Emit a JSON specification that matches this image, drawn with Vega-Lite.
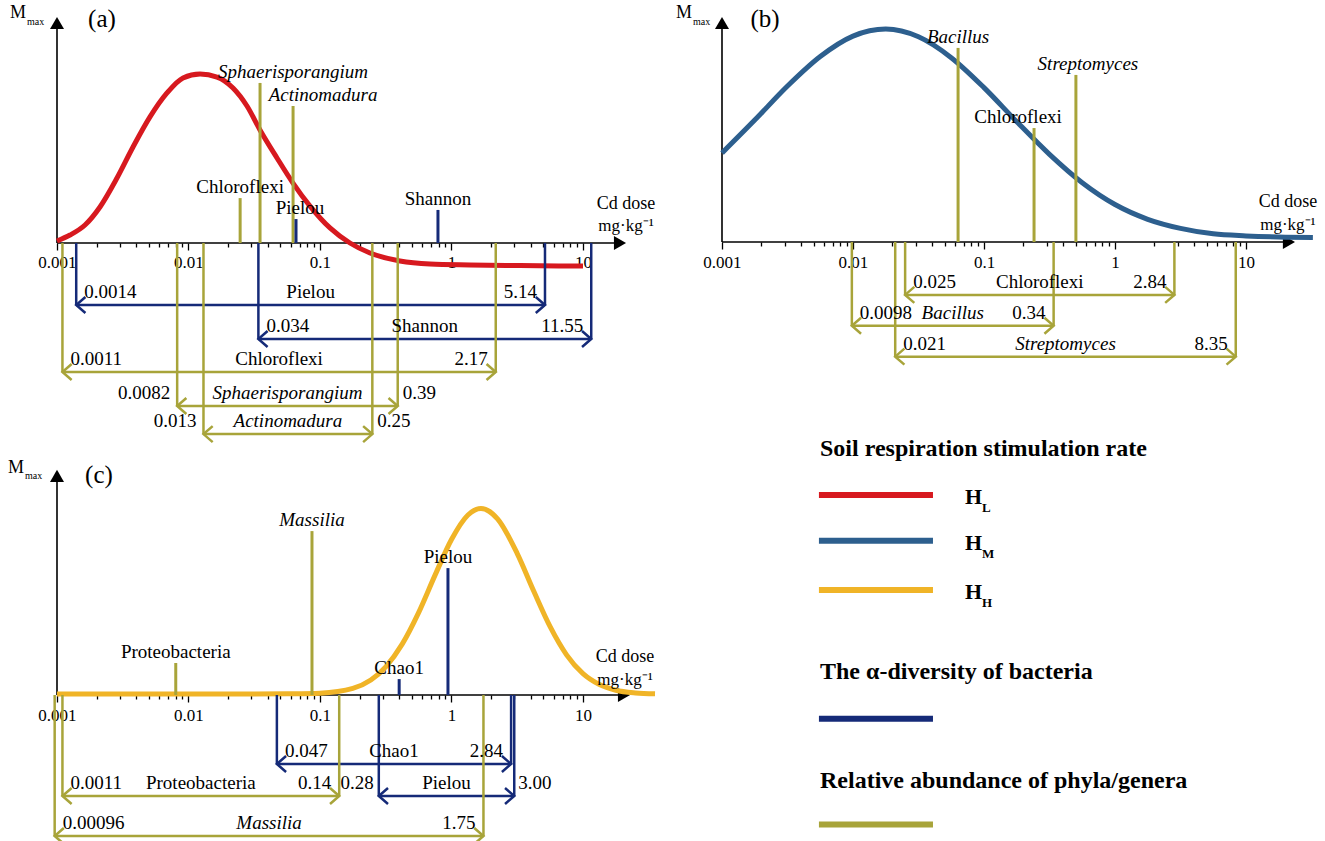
{
"$schema":"https://vega.github.io/schema/vega-lite/v6.json",
"background":"white",
"padding":0,
"columns":2,
"spacing":0,
"bounds":"flush",
"resolve":{"scale":{"x":"independent","y":"independent"}},
"config":{"view":{"stroke":null},"font":"Liberation Serif","axis":{"grid":false},"text":{"font":"Liberation Serif","color":"black"}},
"datasets":{
"curves":[
{"panel":"a","kind":"H_L","dose":0.001,"M":0.9},{"panel":"a","kind":"H_L","dose":0.001256,"M":3.5},{"panel":"a","kind":"H_L","dose":0.001633,"M":7.9},{"panel":"a","kind":"H_L","dose":0.002123,"M":15.8},{"panel":"a","kind":"H_L","dose":0.002859,"M":28.5},{"panel":"a","kind":"H_L","dose":0.003785,"M":42.1},{"panel":"a","kind":"H_L","dose":0.005095,"M":55.3},{"panel":"a","kind":"H_L","dose":0.006864,"M":65.8},{"panel":"a","kind":"H_L","dose":0.009082,"M":72.4},{"panel":"a","kind":"H_L","dose":0.01224,"M":74.1},{"panel":"a","kind":"H_L","dose":0.01647,"M":72.8},{"panel":"a","kind":"H_L","dose":0.0218,"M":68.0},{"panel":"a","kind":"H_L","dose":0.02785,"M":60.1},{"panel":"a","kind":"H_L","dose":0.03497,"M":49.6},{"panel":"a","kind":"H_L","dose":0.0471,"M":37.3},{"panel":"a","kind":"H_L","dose":0.06231,"M":26.3},{"panel":"a","kind":"H_L","dose":0.08395,"M":16.2},{"panel":"a","kind":"H_L","dose":0.1191,"M":6.6},{"panel":"a","kind":"H_L","dose":0.169,"M":0},{"panel":"a","kind":"H_L","dose":0.2399,"M":-4.4},{"panel":"a","kind":"H_L","dose":0.4055,"M":-7.9},{"panel":"a","kind":"H_L","dose":0.6863,"M":-9.2},{"panel":"a","kind":"H_L","dose":1.382,"M":-9.6},{"panel":"a","kind":"H_L","dose":3.319,"M":-9.9},{"panel":"a","kind":"H_L","dose":10,"M":-10.1},
{"panel":"b","kind":"H_M","dose":0.001,"M":39.2},{"panel":"b","kind":"H_M","dose":0.001778,"M":53.7},{"panel":"b","kind":"H_M","dose":0.003162,"M":68.7},{"panel":"b","kind":"H_M","dose":0.005623,"M":81.7},{"panel":"b","kind":"H_M","dose":0.01,"M":90.7},{"panel":"b","kind":"H_M","dose":0.01778,"M":93.8},{"panel":"b","kind":"H_M","dose":0.03162,"M":90.4},{"panel":"b","kind":"H_M","dose":0.05623,"M":81.2},{"panel":"b","kind":"H_M","dose":0.1,"M":68.0},{"panel":"b","kind":"H_M","dose":0.1778,"M":53.0},{"panel":"b","kind":"H_M","dose":0.3162,"M":38.6},{"panel":"b","kind":"H_M","dose":0.5623,"M":26.1},{"panel":"b","kind":"H_M","dose":1,"M":16.5},{"panel":"b","kind":"H_M","dose":1.778,"M":10.0},{"panel":"b","kind":"H_M","dose":3.162,"M":6.0},{"panel":"b","kind":"H_M","dose":5.623,"M":3.6},{"panel":"b","kind":"H_M","dose":10,"M":2.7},{"panel":"b","kind":"H_M","dose":17.78,"M":2.2},{"panel":"b","kind":"H_M","dose":32.4,"M":2.0},
{"panel":"c","kind":"H_H","dose":0.001,"M":0.4},{"panel":"c","kind":"H_H","dose":0.01,"M":0.4},{"panel":"c","kind":"H_H","dose":0.03162,"M":0.4},{"panel":"c","kind":"H_H","dose":0.05623,"M":0.5},{"panel":"c","kind":"H_H","dose":0.1,"M":0.8},{"panel":"c","kind":"H_H","dose":0.1778,"M":2.9},{"panel":"c","kind":"H_H","dose":0.3162,"M":12.4},{"panel":"c","kind":"H_H","dose":0.4217,"M":22.4},{"panel":"c","kind":"H_H","dose":0.5623,"M":36.3},{"panel":"c","kind":"H_H","dose":0.7499,"M":52.8},{"panel":"c","kind":"H_H","dose":1,"M":68.5},{"panel":"c","kind":"H_H","dose":1.334,"M":79.3},{"panel":"c","kind":"H_H","dose":1.675,"M":82.2},{"panel":"c","kind":"H_H","dose":2.239,"M":77.6},{"panel":"c","kind":"H_H","dose":3.162,"M":62.3},{"panel":"c","kind":"H_H","dose":4.217,"M":45.8},{"panel":"c","kind":"H_H","dose":5.623,"M":30.1},{"panel":"c","kind":"H_H","dose":7.499,"M":17.7},{"panel":"c","kind":"H_H","dose":10,"M":9.4},{"panel":"c","kind":"H_H","dose":13.34,"M":4.6},{"panel":"c","kind":"H_H","dose":17.78,"M":2.1},{"panel":"c","kind":"H_H","dose":25.12,"M":0.9},{"panel":"c","kind":"H_H","dose":35.3,"M":0.5}
],
"markers":[
{"panel":"a","name":"Chloroflexi","rank":"phylum","kind":"relative abundance","dose":0.0247,"M":19.7},
{"panel":"a","name":"Sphaerisporangium","rank":"genus","kind":"relative abundance","dose":0.035,"M":70.2},
{"panel":"a","name":"Actinomadura","rank":"genus","kind":"relative abundance","dose":0.0624,"M":60.1},
{"panel":"a","name":"Pielou","rank":"index","kind":"α-diversity","dose":0.0657,"M":10.5},
{"panel":"a","name":"Shannon","rank":"index","kind":"α-diversity","dose":0.789,"M":14.5},
{"panel":"b","name":"Bacillus","rank":"genus","kind":"relative abundance","dose":0.0634,"M":85.5},
{"panel":"b","name":"Chloroflexi","rank":"phylum","kind":"relative abundance","dose":0.241,"M":50.2},
{"panel":"b","name":"Streptomyces","rank":"genus","kind":"relative abundance","dose":0.503,"M":73.6},
{"panel":"c","name":"Proteobacteria","rank":"phylum","kind":"relative abundance","dose":0.008,"M":14.1},
{"panel":"c","name":"Massilia","rank":"genus","kind":"relative abundance","dose":0.0869,"M":72.2},
{"panel":"c","name":"Chao1","rank":"index","kind":"α-diversity","dose":0.40,"M":7.0},
{"panel":"c","name":"Pielou","rank":"index","kind":"α-diversity","dose":0.94,"M":55.9}
],
"brackets":[
{"panel":"a","name":"Pielou","rank":"index","kind":"α-diversity","lo":0.0014,"hi":5.14,"loText":"0.0014","hiText":"5.14","row":-27.2,"place":"inside"},
{"panel":"a","name":"Shannon","rank":"index","kind":"α-diversity","lo":0.034,"hi":11.55,"loText":"0.034","hiText":"11.55","row":-42.1,"place":"inside"},
{"panel":"a","name":"Chloroflexi","rank":"phylum","kind":"relative abundance","lo":0.0011,"hi":2.17,"loText":"0.0011","hiText":"2.17","row":-56.6,"place":"inside"},
{"panel":"a","name":"Sphaerisporangium","rank":"genus","kind":"relative abundance","lo":0.0082,"hi":0.39,"loText":"0.0082","hiText":"0.39","row":-71.5,"place":"outside"},
{"panel":"a","name":"Actinomadura","rank":"genus","kind":"relative abundance","lo":0.013,"hi":0.25,"loText":"0.013","hiText":"0.25","row":-83.8,"place":"outside"},
{"panel":"b","name":"Chloroflexi","rank":"phylum","kind":"relative abundance","lo":0.025,"hi":2.84,"loText":"0.025","hiText":"2.84","row":-23.3,"place":"inside"},
{"panel":"b","name":"Bacillus","rank":"genus","kind":"relative abundance","lo":0.0098,"hi":0.34,"loText":"0.0098","hiText":"0.34","row":-36.9,"place":"inside"},
{"panel":"b","name":"Streptomyces","rank":"genus","kind":"relative abundance","lo":0.021,"hi":8.35,"loText":"0.021","hiText":"8.35","row":-50.5,"place":"inside"},
{"panel":"c","name":"Chao1","rank":"index","kind":"α-diversity","lo":0.047,"hi":2.84,"loText":"0.047","hiText":"2.84","row":-30.4,"place":"inside"},
{"panel":"c","name":"Proteobacteria","rank":"phylum","kind":"relative abundance","lo":0.0011,"hi":0.14,"loText":"0.0011","hiText":"0.14","row":-44.5,"place":"inside"},
{"panel":"c","name":"Pielou","rank":"index","kind":"α-diversity","lo":0.28,"hi":3.0,"loText":"0.28","hiText":"3.00","row":-44.5,"place":"outside"},
{"panel":"c","name":"Massilia","rank":"genus","kind":"relative abundance","lo":0.00096,"hi":1.75,"loText":"0.00096","hiText":"1.75","row":-62.1,"place":"inside"}
],
"legendLines":[
{"kind":"H_L","sub":"L","pos":13.7},{"kind":"H_M","sub":"M","pos":25.1},{"kind":"H_H","sub":"H","pos":37.4},{"kind":"α-diversity","pos":69.5},{"kind":"relative abundance","pos":95.9}
],
"legendHeads":[
{"text":"Soil respiration stimulation rate","pos":4.0},{"text":"The α-diversity of bacteria","pos":59.6},{"text":"Relative abundance of phyla/genera","pos":86.8}
]
},
"concat":[
{"width":660,"height":440,"resolve":{"axis":{"x":"independent"}},"layer":[
{"data":{"values":[{}]},"mark":{"type":"rule","color":"black","strokeWidth":1.6},"encoding":{"x":{"datum":0.001,"type":"quantitative","scale":{"type":"log","domain":[0.0003686,38.51],"nice":false},"axis":null},"x2":{"datum":19.11},"y":{"datum":0,"type":"quantitative","scale":{"domain":[-86.4,106.58],"nice":false,"zero":false},"axis":null}}},
{"data":{"values":[{}]},"mark":{"type":"rule","color":"black","strokeWidth":1.6},"encoding":{"x":{"datum":0.001,"type":"quantitative","scale":{"type":"log","domain":[0.0003686,38.51],"nice":false},"axis":null},"y":{"datum":0,"type":"quantitative","scale":{"domain":[-86.4,106.58],"nice":false,"zero":false},"axis":null},"y2":{"datum":96.5}}},
{"data":{"values":[{}]},"mark":{"type":"point","shape":"triangle-right","filled":true,"size":196,"color":"black","opacity":1,"strokeWidth":0},"encoding":{"x":{"datum":19.11,"type":"quantitative","scale":{"type":"log","domain":[0.0003686,38.51],"nice":false},"axis":null},"y":{"datum":0,"type":"quantitative","scale":{"domain":[-86.4,106.58],"nice":false,"zero":false},"axis":null}}},
{"data":{"values":[{}]},"mark":{"type":"point","shape":"triangle-up","filled":true,"size":196,"color":"black","opacity":1,"strokeWidth":0},"encoding":{"x":{"datum":0.001,"type":"quantitative","scale":{"type":"log","domain":[0.0003686,38.51],"nice":false},"axis":null},"y":{"datum":96.5,"type":"quantitative","scale":{"domain":[-86.4,106.58],"nice":false,"zero":false},"axis":null}}},
{"data":{"name":"curves"},"transform":[{"filter":"datum.panel=='a'"}],"mark":{"type":"line","strokeWidth":5,"interpolate":"monotone"},"encoding":{"x":{"field":"dose","type":"quantitative","scale":{"type":"log","domain":[0.0003686,38.51],"nice":false},"axis":{"orient":"bottom","values":[0.002,0.003,0.004,0.005,0.006,0.007,0.008,0.009,0.02,0.03,0.04,0.05,0.06,0.07,0.08,0.09,0.2,0.3,0.4,0.5,0.6,0.7,0.8,0.9,2,3,4,5,6,7,8,9],"labels":false,"offset":-197,"domain":false,"grid":false,"title":null,"tickColor":"black","tickWidth":1.3,"tickSize":4}},"y":{"field":"M","type":"quantitative","scale":{"domain":[-86.4,106.58],"nice":false,"zero":false},"axis":null},"color":{"field":"kind","type":"nominal","scale":{"domain":["H_L","H_M","H_H","α-diversity","relative abundance"],"range":["#d7191f","#2d5f8e","#f0b427","#152a78","#a8a43a"]},"legend":null}}},
{"data":{"name":"markers"},"transform":[{"filter":"datum.panel=='a'"}],"mark":{"type":"rule","strokeWidth":3},"encoding":{"x":{"field":"dose","type":"quantitative","scale":{"type":"log","domain":[0.0003686,38.51],"nice":false},"axis":{"orient":"bottom","values":[0.001,0.01,0.1,1,10],"format":"~g","offset":-197,"domain":false,"grid":false,"title":null,"tickColor":"black","tickWidth":1.3,"tickSize":7,"labelFont":"Liberation Serif","labelFontSize":17,"labelColor":"black","labelPadding":4,"labelOverlap":false,"labelBound":false,"labelFlush":false}},"y":{"field":"M","type":"quantitative","scale":{"domain":[-86.4,106.58],"nice":false,"zero":false},"axis":null},"y2":{"datum":0},"color":{"field":"kind","type":"nominal","scale":{"domain":["H_L","H_M","H_H","α-diversity","relative abundance"],"range":["#d7191f","#2d5f8e","#f0b427","#152a78","#a8a43a"]},"legend":null}}},
{"data":{"name":"markers"},"transform":[{"filter":"datum.panel=='a'"}],"mark":{"type":"text","align":"center","baseline":"alphabetic","dy":-5,"fontSize":19,"color":"black","fontStyle":{"expr":"datum.rank=='genus' ? 'italic' : 'normal'"},"dx":{"expr":"datum.name=='Sphaerisporangium' ? 33 : datum.name=='Actinomadura' ? 30 : datum.name=='Pielou' ? 4 : 0"}},"encoding":{"x":{"field":"dose","type":"quantitative","scale":{"type":"log","domain":[0.0003686,38.51],"nice":false},"axis":null},"y":{"field":"M","type":"quantitative","scale":{"domain":[-86.4,106.58],"nice":false,"zero":false},"axis":null},"text":{"field":"name"}}},
{"data":{"name":"brackets"},"transform":[{"filter":"datum.panel=='a'"}],"mark":{"type":"rule","strokeWidth":2.5},"encoding":{"x":{"field":"lo","type":"quantitative","scale":{"type":"log","domain":[0.0003686,38.51],"nice":false},"axis":null},"x2":{"field":"hi"},"y":{"field":"row","type":"quantitative","scale":{"domain":[-86.4,106.58],"nice":false,"zero":false},"axis":null},"color":{"field":"kind","type":"nominal","scale":{"domain":["H_L","H_M","H_H","α-diversity","relative abundance"],"range":["#d7191f","#2d5f8e","#f0b427","#152a78","#a8a43a"]},"legend":null}}},
{"data":{"name":"brackets"},"transform":[{"filter":"datum.panel=='a'"}],"mark":{"type":"rule","strokeWidth":2.5},"encoding":{"x":{"field":"lo","type":"quantitative","scale":{"type":"log","domain":[0.0003686,38.51],"nice":false},"axis":null},"y":{"field":"row","type":"quantitative","scale":{"domain":[-86.4,106.58],"nice":false,"zero":false},"axis":null},"y2":{"datum":0},"color":{"field":"kind","type":"nominal","scale":{"domain":["H_L","H_M","H_H","α-diversity","relative abundance"],"range":["#d7191f","#2d5f8e","#f0b427","#152a78","#a8a43a"]},"legend":null}}},
{"data":{"name":"brackets"},"transform":[{"filter":"datum.panel=='a'"}],"mark":{"type":"rule","strokeWidth":2.5},"encoding":{"x":{"field":"hi","type":"quantitative","scale":{"type":"log","domain":[0.0003686,38.51],"nice":false},"axis":null},"y":{"field":"row","type":"quantitative","scale":{"domain":[-86.4,106.58],"nice":false,"zero":false},"axis":null},"y2":{"datum":0},"color":{"field":"kind","type":"nominal","scale":{"domain":["H_L","H_M","H_H","α-diversity","relative abundance"],"range":["#d7191f","#2d5f8e","#f0b427","#152a78","#a8a43a"]},"legend":null}}},
{"data":{"name":"brackets"},"transform":[{"filter":"datum.panel=='a'"}],"mark":{"type":"point","shape":"M1.15,-1L0,0L1.15,1","filled":false,"size":256,"strokeWidth":2.5,"opacity":1},"encoding":{"x":{"field":"lo","type":"quantitative","scale":{"type":"log","domain":[0.0003686,38.51],"nice":false},"axis":null},"y":{"field":"row","type":"quantitative","scale":{"domain":[-86.4,106.58],"nice":false,"zero":false},"axis":null},"color":{"field":"kind","type":"nominal","scale":{"domain":["H_L","H_M","H_H","α-diversity","relative abundance"],"range":["#d7191f","#2d5f8e","#f0b427","#152a78","#a8a43a"]},"legend":null}}},
{"data":{"name":"brackets"},"transform":[{"filter":"datum.panel=='a'"}],"mark":{"type":"point","shape":"M-1.15,-1L0,0L-1.15,1","filled":false,"size":256,"strokeWidth":2.5,"opacity":1},"encoding":{"x":{"field":"hi","type":"quantitative","scale":{"type":"log","domain":[0.0003686,38.51],"nice":false},"axis":null},"y":{"field":"row","type":"quantitative","scale":{"domain":[-86.4,106.58],"nice":false,"zero":false},"axis":null},"color":{"field":"kind","type":"nominal","scale":{"domain":["H_L","H_M","H_H","α-diversity","relative abundance"],"range":["#d7191f","#2d5f8e","#f0b427","#152a78","#a8a43a"]},"legend":null}}},
{"data":{"name":"brackets"},"transform":[{"filter":"datum.panel=='a'"},{"calculate":"sqrt(datum.lo*datum.hi)","as":"mid"}],"mark":{"type":"text","align":"center","baseline":"alphabetic","dy":-7,"fontSize":19,"color":"black","fontStyle":{"expr":"datum.rank=='genus' ? 'italic' : 'normal'"}},"encoding":{"x":{"field":"mid","type":"quantitative","scale":{"type":"log","domain":[0.0003686,38.51],"nice":false},"axis":null},"y":{"field":"row","type":"quantitative","scale":{"domain":[-86.4,106.58],"nice":false,"zero":false},"axis":null},"text":{"field":"name"}}},
{"data":{"name":"brackets"},"transform":[{"filter":"datum.panel=='a'"}],"mark":{"type":"text","baseline":"alphabetic","dy":-7,"fontSize":19,"color":"black","align":{"expr":"datum.place=='outside' ? 'right' : 'left'"},"dx":{"expr":"datum.place=='outside' ? -7 : 8"}},"encoding":{"x":{"field":"lo","type":"quantitative","scale":{"type":"log","domain":[0.0003686,38.51],"nice":false},"axis":null},"y":{"field":"row","type":"quantitative","scale":{"domain":[-86.4,106.58],"nice":false,"zero":false},"axis":null},"text":{"field":"loText"}}},
{"data":{"name":"brackets"},"transform":[{"filter":"datum.panel=='a'"}],"mark":{"type":"text","baseline":"alphabetic","dy":-7,"fontSize":19,"color":"black","align":{"expr":"datum.place=='outside' ? 'left' : 'right'"},"dx":{"expr":"datum.place=='outside' ? 5 : -8"}},"encoding":{"x":{"field":"hi","type":"quantitative","scale":{"type":"log","domain":[0.0003686,38.51],"nice":false},"axis":null},"y":{"field":"row","type":"quantitative","scale":{"domain":[-86.4,106.58],"nice":false,"zero":false},"axis":null},"text":{"field":"hiText"}}},
{"data":{"values":[{}]},"mark":{"type":"text","text":"M","align":"right","baseline":"alphabetic","dx":-31,"dy":3,"fontSize":18,"color":"black"},"encoding":{"x":{"datum":0.001,"type":"quantitative","scale":{"type":"log","domain":[0.0003686,38.51],"nice":false},"axis":null},"y":{"datum":100,"type":"quantitative","scale":{"domain":[-86.4,106.58],"nice":false,"zero":false},"axis":null}}},
{"data":{"values":[{}]},"mark":{"type":"text","text":"max","align":"left","baseline":"alphabetic","dx":-30,"dy":10,"fontSize":10,"color":"black"},"encoding":{"x":{"datum":0.001,"type":"quantitative","scale":{"type":"log","domain":[0.0003686,38.51],"nice":false},"axis":null},"y":{"datum":100,"type":"quantitative","scale":{"domain":[-86.4,106.58],"nice":false,"zero":false},"axis":null}}},
{"data":{"values":[{}]},"mark":{"type":"text","text":"(a)","align":"center","baseline":"alphabetic","dx":45,"dy":12,"fontSize":25,"color":"black"},"encoding":{"x":{"datum":0.001,"type":"quantitative","scale":{"type":"log","domain":[0.0003686,38.51],"nice":false},"axis":null},"y":{"datum":100,"type":"quantitative","scale":{"domain":[-86.4,106.58],"nice":false,"zero":false},"axis":null}}},
{"data":{"values":[{}]},"mark":{"type":"text","text":"Cd dose","align":"center","baseline":"alphabetic","dx":6,"dy":-34,"fontSize":18,"color":"black"},"encoding":{"x":{"datum":19.11,"type":"quantitative","scale":{"type":"log","domain":[0.0003686,38.51],"nice":false},"axis":null},"y":{"datum":0,"type":"quantitative","scale":{"domain":[-86.4,106.58],"nice":false,"zero":false},"axis":null}}},
{"data":{"values":[{}]},"mark":{"type":"text","text":"mg·kg⁻¹","align":"center","baseline":"alphabetic","dx":6,"dy":-12,"fontSize":17,"color":"black"},"encoding":{"x":{"datum":19.11,"type":"quantitative","scale":{"type":"log","domain":[0.0003686,38.51],"nice":false},"axis":null},"y":{"datum":0,"type":"quantitative","scale":{"domain":[-86.4,106.58],"nice":false,"zero":false},"axis":null}}}
]},
{"width":665,"height":440,"resolve":{"axis":{"x":"independent"}},"layer":[
{"data":{"values":[{}]},"mark":{"type":"rule","color":"black","strokeWidth":1.6},"encoding":{"x":{"datum":0.001,"type":"quantitative","scale":{"type":"log","domain":[0.0003363,40.09],"nice":false},"axis":null},"x2":{"datum":21.28},"y":{"datum":0,"type":"quantitative","scale":{"domain":[-87.22,106.61],"nice":false,"zero":false},"axis":null}}},
{"data":{"values":[{}]},"mark":{"type":"rule","color":"black","strokeWidth":1.6},"encoding":{"x":{"datum":0.001,"type":"quantitative","scale":{"type":"log","domain":[0.0003363,40.09],"nice":false},"axis":null},"y":{"datum":0,"type":"quantitative","scale":{"domain":[-87.22,106.61],"nice":false,"zero":false},"axis":null},"y2":{"datum":96.5}}},
{"data":{"values":[{}]},"mark":{"type":"point","shape":"triangle-right","filled":true,"size":196,"color":"black","opacity":1,"strokeWidth":0},"encoding":{"x":{"datum":21.28,"type":"quantitative","scale":{"type":"log","domain":[0.0003363,40.09],"nice":false},"axis":null},"y":{"datum":0,"type":"quantitative","scale":{"domain":[-87.22,106.61],"nice":false,"zero":false},"axis":null}}},
{"data":{"values":[{}]},"mark":{"type":"point","shape":"triangle-up","filled":true,"size":196,"color":"black","opacity":1,"strokeWidth":0},"encoding":{"x":{"datum":0.001,"type":"quantitative","scale":{"type":"log","domain":[0.0003363,40.09],"nice":false},"axis":null},"y":{"datum":96.5,"type":"quantitative","scale":{"domain":[-87.22,106.61],"nice":false,"zero":false},"axis":null}}},
{"data":{"name":"curves"},"transform":[{"filter":"datum.panel=='b'"}],"mark":{"type":"line","strokeWidth":5,"interpolate":"monotone"},"encoding":{"x":{"field":"dose","type":"quantitative","scale":{"type":"log","domain":[0.0003363,40.09],"nice":false},"axis":{"orient":"bottom","values":[0.002,0.003,0.004,0.005,0.006,0.007,0.008,0.009,0.02,0.03,0.04,0.05,0.06,0.07,0.08,0.09,0.2,0.3,0.4,0.5,0.6,0.7,0.8,0.9,2,3,4,5,6,7,8,9],"labels":false,"offset":-198,"domain":false,"grid":false,"title":null,"tickColor":"black","tickWidth":1.3,"tickSize":4}},"y":{"field":"M","type":"quantitative","scale":{"domain":[-87.22,106.61],"nice":false,"zero":false},"axis":null},"color":{"field":"kind","type":"nominal","scale":{"domain":["H_L","H_M","H_H","α-diversity","relative abundance"],"range":["#d7191f","#2d5f8e","#f0b427","#152a78","#a8a43a"]},"legend":null}}},
{"data":{"name":"markers"},"transform":[{"filter":"datum.panel=='b'"}],"mark":{"type":"rule","strokeWidth":3},"encoding":{"x":{"field":"dose","type":"quantitative","scale":{"type":"log","domain":[0.0003363,40.09],"nice":false},"axis":{"orient":"bottom","values":[0.001,0.01,0.1,1,10],"format":"~g","offset":-198,"domain":false,"grid":false,"title":null,"tickColor":"black","tickWidth":1.3,"tickSize":7,"labelFont":"Liberation Serif","labelFontSize":17,"labelColor":"black","labelPadding":5,"labelOverlap":false,"labelBound":false,"labelFlush":false}},"y":{"field":"M","type":"quantitative","scale":{"domain":[-87.22,106.61],"nice":false,"zero":false},"axis":null},"y2":{"datum":0},"color":{"field":"kind","type":"nominal","scale":{"domain":["H_L","H_M","H_H","α-diversity","relative abundance"],"range":["#d7191f","#2d5f8e","#f0b427","#152a78","#a8a43a"]},"legend":null}}},
{"data":{"name":"markers"},"transform":[{"filter":"datum.panel=='b'"}],"mark":{"type":"text","align":"center","baseline":"alphabetic","dy":-5,"fontSize":19,"color":"black","fontStyle":{"expr":"datum.rank=='genus' ? 'italic' : 'normal'"},"dx":{"expr":"datum.name=='Chloroflexi' ? -16 : datum.name=='Streptomyces' ? 12 : 0"}},"encoding":{"x":{"field":"dose","type":"quantitative","scale":{"type":"log","domain":[0.0003363,40.09],"nice":false},"axis":null},"y":{"field":"M","type":"quantitative","scale":{"domain":[-87.22,106.61],"nice":false,"zero":false},"axis":null},"text":{"field":"name"}}},
{"data":{"name":"brackets"},"transform":[{"filter":"datum.panel=='b'"}],"mark":{"type":"rule","strokeWidth":2.5},"encoding":{"x":{"field":"lo","type":"quantitative","scale":{"type":"log","domain":[0.0003363,40.09],"nice":false},"axis":null},"x2":{"field":"hi"},"y":{"field":"row","type":"quantitative","scale":{"domain":[-87.22,106.61],"nice":false,"zero":false},"axis":null},"color":{"field":"kind","type":"nominal","scale":{"domain":["H_L","H_M","H_H","α-diversity","relative abundance"],"range":["#d7191f","#2d5f8e","#f0b427","#152a78","#a8a43a"]},"legend":null}}},
{"data":{"name":"brackets"},"transform":[{"filter":"datum.panel=='b'"}],"mark":{"type":"rule","strokeWidth":2.5},"encoding":{"x":{"field":"lo","type":"quantitative","scale":{"type":"log","domain":[0.0003363,40.09],"nice":false},"axis":null},"y":{"field":"row","type":"quantitative","scale":{"domain":[-87.22,106.61],"nice":false,"zero":false},"axis":null},"y2":{"datum":0},"color":{"field":"kind","type":"nominal","scale":{"domain":["H_L","H_M","H_H","α-diversity","relative abundance"],"range":["#d7191f","#2d5f8e","#f0b427","#152a78","#a8a43a"]},"legend":null}}},
{"data":{"name":"brackets"},"transform":[{"filter":"datum.panel=='b'"}],"mark":{"type":"rule","strokeWidth":2.5},"encoding":{"x":{"field":"hi","type":"quantitative","scale":{"type":"log","domain":[0.0003363,40.09],"nice":false},"axis":null},"y":{"field":"row","type":"quantitative","scale":{"domain":[-87.22,106.61],"nice":false,"zero":false},"axis":null},"y2":{"datum":0},"color":{"field":"kind","type":"nominal","scale":{"domain":["H_L","H_M","H_H","α-diversity","relative abundance"],"range":["#d7191f","#2d5f8e","#f0b427","#152a78","#a8a43a"]},"legend":null}}},
{"data":{"name":"brackets"},"transform":[{"filter":"datum.panel=='b'"}],"mark":{"type":"point","shape":"M1.15,-1L0,0L1.15,1","filled":false,"size":256,"strokeWidth":2.5,"opacity":1},"encoding":{"x":{"field":"lo","type":"quantitative","scale":{"type":"log","domain":[0.0003363,40.09],"nice":false},"axis":null},"y":{"field":"row","type":"quantitative","scale":{"domain":[-87.22,106.61],"nice":false,"zero":false},"axis":null},"color":{"field":"kind","type":"nominal","scale":{"domain":["H_L","H_M","H_H","α-diversity","relative abundance"],"range":["#d7191f","#2d5f8e","#f0b427","#152a78","#a8a43a"]},"legend":null}}},
{"data":{"name":"brackets"},"transform":[{"filter":"datum.panel=='b'"}],"mark":{"type":"point","shape":"M-1.15,-1L0,0L-1.15,1","filled":false,"size":256,"strokeWidth":2.5,"opacity":1},"encoding":{"x":{"field":"hi","type":"quantitative","scale":{"type":"log","domain":[0.0003363,40.09],"nice":false},"axis":null},"y":{"field":"row","type":"quantitative","scale":{"domain":[-87.22,106.61],"nice":false,"zero":false},"axis":null},"color":{"field":"kind","type":"nominal","scale":{"domain":["H_L","H_M","H_H","α-diversity","relative abundance"],"range":["#d7191f","#2d5f8e","#f0b427","#152a78","#a8a43a"]},"legend":null}}},
{"data":{"name":"brackets"},"transform":[{"filter":"datum.panel=='b'"},{"calculate":"sqrt(datum.lo*datum.hi)","as":"mid"}],"mark":{"type":"text","align":"center","baseline":"alphabetic","dy":-7,"fontSize":19,"color":"black","fontStyle":{"expr":"datum.rank=='genus' ? 'italic' : 'normal'"}},"encoding":{"x":{"field":"mid","type":"quantitative","scale":{"type":"log","domain":[0.0003363,40.09],"nice":false},"axis":null},"y":{"field":"row","type":"quantitative","scale":{"domain":[-87.22,106.61],"nice":false,"zero":false},"axis":null},"text":{"field":"name"}}},
{"data":{"name":"brackets"},"transform":[{"filter":"datum.panel=='b'"}],"mark":{"type":"text","baseline":"alphabetic","dy":-7,"fontSize":19,"color":"black","align":{"expr":"datum.place=='outside' ? 'right' : 'left'"},"dx":{"expr":"datum.place=='outside' ? -7 : 8"}},"encoding":{"x":{"field":"lo","type":"quantitative","scale":{"type":"log","domain":[0.0003363,40.09],"nice":false},"axis":null},"y":{"field":"row","type":"quantitative","scale":{"domain":[-87.22,106.61],"nice":false,"zero":false},"axis":null},"text":{"field":"loText"}}},
{"data":{"name":"brackets"},"transform":[{"filter":"datum.panel=='b'"}],"mark":{"type":"text","baseline":"alphabetic","dy":-7,"fontSize":19,"color":"black","align":{"expr":"datum.place=='outside' ? 'left' : 'right'"},"dx":{"expr":"datum.place=='outside' ? 5 : -8"}},"encoding":{"x":{"field":"hi","type":"quantitative","scale":{"type":"log","domain":[0.0003363,40.09],"nice":false},"axis":null},"y":{"field":"row","type":"quantitative","scale":{"domain":[-87.22,106.61],"nice":false,"zero":false},"axis":null},"text":{"field":"hiText"}}},
{"data":{"values":[{}]},"mark":{"type":"text","text":"M","align":"right","baseline":"alphabetic","dx":-30,"dy":3,"fontSize":18,"color":"black"},"encoding":{"x":{"datum":0.001,"type":"quantitative","scale":{"type":"log","domain":[0.0003363,40.09],"nice":false},"axis":null},"y":{"datum":100,"type":"quantitative","scale":{"domain":[-87.22,106.61],"nice":false,"zero":false},"axis":null}}},
{"data":{"values":[{}]},"mark":{"type":"text","text":"max","align":"left","baseline":"alphabetic","dx":-29,"dy":10,"fontSize":10,"color":"black"},"encoding":{"x":{"datum":0.001,"type":"quantitative","scale":{"type":"log","domain":[0.0003363,40.09],"nice":false},"axis":null},"y":{"datum":100,"type":"quantitative","scale":{"domain":[-87.22,106.61],"nice":false,"zero":false},"axis":null}}},
{"data":{"values":[{}]},"mark":{"type":"text","text":"(b)","align":"center","baseline":"alphabetic","dx":43,"dy":12,"fontSize":25,"color":"black"},"encoding":{"x":{"datum":0.001,"type":"quantitative","scale":{"type":"log","domain":[0.0003363,40.09],"nice":false},"axis":null},"y":{"datum":100,"type":"quantitative","scale":{"domain":[-87.22,106.61],"nice":false,"zero":false},"axis":null}}},
{"data":{"values":[{}]},"mark":{"type":"text","text":"Cd dose","align":"center","baseline":"alphabetic","dx":-1,"dy":-35,"fontSize":18,"color":"black"},"encoding":{"x":{"datum":21.28,"type":"quantitative","scale":{"type":"log","domain":[0.0003363,40.09],"nice":false},"axis":null},"y":{"datum":0,"type":"quantitative","scale":{"domain":[-87.22,106.61],"nice":false,"zero":false},"axis":null}}},
{"data":{"values":[{}]},"mark":{"type":"text","text":"mg·kg⁻¹","align":"center","baseline":"alphabetic","dx":-1,"dy":-12,"fontSize":17,"color":"black"},"encoding":{"x":{"datum":21.28,"type":"quantitative","scale":{"type":"log","domain":[0.0003363,40.09],"nice":false},"axis":null},"y":{"datum":0,"type":"quantitative","scale":{"domain":[-87.22,106.61],"nice":false,"zero":false},"axis":null}}}
]},
{"width":660,"height":401,"resolve":{"axis":{"x":"independent"}},"layer":[
{"data":{"values":[{}]},"mark":{"type":"rule","color":"black","strokeWidth":1.6},"encoding":{"x":{"datum":0.001,"type":"quantitative","scale":{"type":"log","domain":[0.0003686,38.51],"nice":false},"axis":null},"x2":{"datum":20.51},"y":{"datum":0,"type":"quantitative","scale":{"domain":[-64.32,112.33],"nice":false,"zero":false},"axis":null}}},
{"data":{"values":[{}]},"mark":{"type":"rule","color":"black","strokeWidth":1.6},"encoding":{"x":{"datum":0.001,"type":"quantitative","scale":{"type":"log","domain":[0.0003686,38.51],"nice":false},"axis":null},"y":{"datum":0,"type":"quantitative","scale":{"domain":[-64.32,112.33],"nice":false,"zero":false},"axis":null},"y2":{"datum":96.5}}},
{"data":{"values":[{}]},"mark":{"type":"point","shape":"triangle-right","filled":true,"size":196,"color":"black","opacity":1,"strokeWidth":0},"encoding":{"x":{"datum":20.51,"type":"quantitative","scale":{"type":"log","domain":[0.0003686,38.51],"nice":false},"axis":null},"y":{"datum":0,"type":"quantitative","scale":{"domain":[-64.32,112.33],"nice":false,"zero":false},"axis":null}}},
{"data":{"values":[{}]},"mark":{"type":"point","shape":"triangle-up","filled":true,"size":196,"color":"black","opacity":1,"strokeWidth":0},"encoding":{"x":{"datum":0.001,"type":"quantitative","scale":{"type":"log","domain":[0.0003686,38.51],"nice":false},"axis":null},"y":{"datum":96.5,"type":"quantitative","scale":{"domain":[-64.32,112.33],"nice":false,"zero":false},"axis":null}}},
{"data":{"name":"curves"},"transform":[{"filter":"datum.panel=='c'"}],"mark":{"type":"line","strokeWidth":5,"interpolate":"monotone"},"encoding":{"x":{"field":"dose","type":"quantitative","scale":{"type":"log","domain":[0.0003686,38.51],"nice":false},"axis":{"orient":"bottom","values":[0.002,0.003,0.004,0.005,0.006,0.007,0.008,0.009,0.02,0.03,0.04,0.05,0.06,0.07,0.08,0.09,0.2,0.3,0.4,0.5,0.6,0.7,0.8,0.9,2,3,4,5,6,7,8,9],"labels":false,"offset":-146,"domain":false,"grid":false,"title":null,"tickColor":"black","tickWidth":1.3,"tickSize":4}},"y":{"field":"M","type":"quantitative","scale":{"domain":[-64.32,112.33],"nice":false,"zero":false},"axis":null},"color":{"field":"kind","type":"nominal","scale":{"domain":["H_L","H_M","H_H","α-diversity","relative abundance"],"range":["#d7191f","#2d5f8e","#f0b427","#152a78","#a8a43a"]},"legend":null}}},
{"data":{"name":"markers"},"transform":[{"filter":"datum.panel=='c'"}],"mark":{"type":"rule","strokeWidth":3},"encoding":{"x":{"field":"dose","type":"quantitative","scale":{"type":"log","domain":[0.0003686,38.51],"nice":false},"axis":{"orient":"bottom","values":[0.001,0.01,0.1,1,10],"format":"~g","offset":-146,"domain":false,"grid":false,"title":null,"tickColor":"black","tickWidth":1.3,"tickSize":7,"labelFont":"Liberation Serif","labelFontSize":17,"labelColor":"black","labelPadding":5,"labelOverlap":false,"labelBound":false,"labelFlush":false}},"y":{"field":"M","type":"quantitative","scale":{"domain":[-64.32,112.33],"nice":false,"zero":false},"axis":null},"y2":{"datum":0},"color":{"field":"kind","type":"nominal","scale":{"domain":["H_L","H_M","H_H","α-diversity","relative abundance"],"range":["#d7191f","#2d5f8e","#f0b427","#152a78","#a8a43a"]},"legend":null}}},
{"data":{"name":"markers"},"transform":[{"filter":"datum.panel=='c'"}],"mark":{"type":"text","align":"center","baseline":"alphabetic","dy":-5,"fontSize":19,"color":"black","fontStyle":{"expr":"datum.rank=='genus' ? 'italic' : 'normal'"}},"encoding":{"x":{"field":"dose","type":"quantitative","scale":{"type":"log","domain":[0.0003686,38.51],"nice":false},"axis":null},"y":{"field":"M","type":"quantitative","scale":{"domain":[-64.32,112.33],"nice":false,"zero":false},"axis":null},"text":{"field":"name"}}},
{"data":{"name":"brackets"},"transform":[{"filter":"datum.panel=='c'"}],"mark":{"type":"rule","strokeWidth":2.5},"encoding":{"x":{"field":"lo","type":"quantitative","scale":{"type":"log","domain":[0.0003686,38.51],"nice":false},"axis":null},"x2":{"field":"hi"},"y":{"field":"row","type":"quantitative","scale":{"domain":[-64.32,112.33],"nice":false,"zero":false},"axis":null},"color":{"field":"kind","type":"nominal","scale":{"domain":["H_L","H_M","H_H","α-diversity","relative abundance"],"range":["#d7191f","#2d5f8e","#f0b427","#152a78","#a8a43a"]},"legend":null}}},
{"data":{"name":"brackets"},"transform":[{"filter":"datum.panel=='c'"}],"mark":{"type":"rule","strokeWidth":2.5},"encoding":{"x":{"field":"lo","type":"quantitative","scale":{"type":"log","domain":[0.0003686,38.51],"nice":false},"axis":null},"y":{"field":"row","type":"quantitative","scale":{"domain":[-64.32,112.33],"nice":false,"zero":false},"axis":null},"y2":{"datum":0},"color":{"field":"kind","type":"nominal","scale":{"domain":["H_L","H_M","H_H","α-diversity","relative abundance"],"range":["#d7191f","#2d5f8e","#f0b427","#152a78","#a8a43a"]},"legend":null}}},
{"data":{"name":"brackets"},"transform":[{"filter":"datum.panel=='c'"}],"mark":{"type":"rule","strokeWidth":2.5},"encoding":{"x":{"field":"hi","type":"quantitative","scale":{"type":"log","domain":[0.0003686,38.51],"nice":false},"axis":null},"y":{"field":"row","type":"quantitative","scale":{"domain":[-64.32,112.33],"nice":false,"zero":false},"axis":null},"y2":{"datum":0},"color":{"field":"kind","type":"nominal","scale":{"domain":["H_L","H_M","H_H","α-diversity","relative abundance"],"range":["#d7191f","#2d5f8e","#f0b427","#152a78","#a8a43a"]},"legend":null}}},
{"data":{"name":"brackets"},"transform":[{"filter":"datum.panel=='c'"}],"mark":{"type":"point","shape":"M1.15,-1L0,0L1.15,1","filled":false,"size":256,"strokeWidth":2.5,"opacity":1},"encoding":{"x":{"field":"lo","type":"quantitative","scale":{"type":"log","domain":[0.0003686,38.51],"nice":false},"axis":null},"y":{"field":"row","type":"quantitative","scale":{"domain":[-64.32,112.33],"nice":false,"zero":false},"axis":null},"color":{"field":"kind","type":"nominal","scale":{"domain":["H_L","H_M","H_H","α-diversity","relative abundance"],"range":["#d7191f","#2d5f8e","#f0b427","#152a78","#a8a43a"]},"legend":null}}},
{"data":{"name":"brackets"},"transform":[{"filter":"datum.panel=='c'"}],"mark":{"type":"point","shape":"M-1.15,-1L0,0L-1.15,1","filled":false,"size":256,"strokeWidth":2.5,"opacity":1},"encoding":{"x":{"field":"hi","type":"quantitative","scale":{"type":"log","domain":[0.0003686,38.51],"nice":false},"axis":null},"y":{"field":"row","type":"quantitative","scale":{"domain":[-64.32,112.33],"nice":false,"zero":false},"axis":null},"color":{"field":"kind","type":"nominal","scale":{"domain":["H_L","H_M","H_H","α-diversity","relative abundance"],"range":["#d7191f","#2d5f8e","#f0b427","#152a78","#a8a43a"]},"legend":null}}},
{"data":{"name":"brackets"},"transform":[{"filter":"datum.panel=='c'"},{"calculate":"sqrt(datum.lo*datum.hi)","as":"mid"}],"mark":{"type":"text","align":"center","baseline":"alphabetic","dy":-7,"fontSize":19,"color":"black","fontStyle":{"expr":"datum.rank=='genus' ? 'italic' : 'normal'"}},"encoding":{"x":{"field":"mid","type":"quantitative","scale":{"type":"log","domain":[0.0003686,38.51],"nice":false},"axis":null},"y":{"field":"row","type":"quantitative","scale":{"domain":[-64.32,112.33],"nice":false,"zero":false},"axis":null},"text":{"field":"name"}}},
{"data":{"name":"brackets"},"transform":[{"filter":"datum.panel=='c'"}],"mark":{"type":"text","baseline":"alphabetic","dy":-7,"fontSize":19,"color":"black","align":{"expr":"datum.place=='outside' ? 'right' : 'left'"},"dx":{"expr":"datum.place=='outside' ? -5 : 8"}},"encoding":{"x":{"field":"lo","type":"quantitative","scale":{"type":"log","domain":[0.0003686,38.51],"nice":false},"axis":null},"y":{"field":"row","type":"quantitative","scale":{"domain":[-64.32,112.33],"nice":false,"zero":false},"axis":null},"text":{"field":"loText"}}},
{"data":{"name":"brackets"},"transform":[{"filter":"datum.panel=='c'"}],"mark":{"type":"text","baseline":"alphabetic","dy":-7,"fontSize":19,"color":"black","align":{"expr":"datum.place=='outside' ? 'left' : 'right'"},"dx":{"expr":"datum.place=='outside' ? 4 : -8"}},"encoding":{"x":{"field":"hi","type":"quantitative","scale":{"type":"log","domain":[0.0003686,38.51],"nice":false},"axis":null},"y":{"field":"row","type":"quantitative","scale":{"domain":[-64.32,112.33],"nice":false,"zero":false},"axis":null},"text":{"field":"hiText"}}},
{"data":{"values":[{}]},"mark":{"type":"text","text":"M","align":"right","baseline":"alphabetic","dx":-33,"dy":5,"fontSize":18,"color":"black"},"encoding":{"x":{"datum":0.001,"type":"quantitative","scale":{"type":"log","domain":[0.0003686,38.51],"nice":false},"axis":null},"y":{"datum":100,"type":"quantitative","scale":{"domain":[-64.32,112.33],"nice":false,"zero":false},"axis":null}}},
{"data":{"values":[{}]},"mark":{"type":"text","text":"max","align":"left","baseline":"alphabetic","dx":-32,"dy":11,"fontSize":10,"color":"black"},"encoding":{"x":{"datum":0.001,"type":"quantitative","scale":{"type":"log","domain":[0.0003686,38.51],"nice":false},"axis":null},"y":{"datum":100,"type":"quantitative","scale":{"domain":[-64.32,112.33],"nice":false,"zero":false},"axis":null}}},
{"data":{"values":[{}]},"mark":{"type":"text","text":"(c)","align":"center","baseline":"alphabetic","dx":42,"dy":15,"fontSize":25,"color":"black"},"encoding":{"x":{"datum":0.001,"type":"quantitative","scale":{"type":"log","domain":[0.0003686,38.51],"nice":false},"axis":null},"y":{"datum":100,"type":"quantitative","scale":{"domain":[-64.32,112.33],"nice":false,"zero":false},"axis":null}}},
{"data":{"values":[{}]},"mark":{"type":"text","text":"Cd dose","align":"center","baseline":"alphabetic","dx":1,"dy":-33,"fontSize":18,"color":"black"},"encoding":{"x":{"datum":20.51,"type":"quantitative","scale":{"type":"log","domain":[0.0003686,38.51],"nice":false},"axis":null},"y":{"datum":0,"type":"quantitative","scale":{"domain":[-64.32,112.33],"nice":false,"zero":false},"axis":null}}},
{"data":{"values":[{}]},"mark":{"type":"text","text":"mg·kg⁻¹","align":"center","baseline":"alphabetic","dx":1,"dy":-10,"fontSize":17,"color":"black"},"encoding":{"x":{"datum":20.51,"type":"quantitative","scale":{"type":"log","domain":[0.0003686,38.51],"nice":false},"axis":null},"y":{"datum":0,"type":"quantitative","scale":{"domain":[-64.32,112.33],"nice":false,"zero":false},"axis":null}}}
]},
{"width":665,"height":401,"layer":[
{"data":{"name":"legendLines"},"mark":{"type":"rule","strokeWidth":6},"encoding":{"x":{"datum":23.9,"type":"quantitative","scale":{"domain":[0,100],"nice":false,"zero":false},"axis":null},"x2":{"datum":41.05},"y":{"field":"pos","type":"quantitative","scale":{"domain":[0,100],"nice":false,"zero":false,"reverse":true},"axis":null},"color":{"field":"kind","type":"nominal","scale":{"domain":["H_L","H_M","H_H","α-diversity","relative abundance"],"range":["#d7191f","#2d5f8e","#f0b427","#152a78","#a8a43a"]},"legend":null}}},
{"data":{"name":"legendLines"},"transform":[{"filter":"isValid(datum.sub)"}],"mark":{"type":"text","text":"H","align":"left","baseline":"alphabetic","dy":9,"fontSize":22,"fontWeight":"bold","color":"black"},"encoding":{"x":{"datum":45.86,"type":"quantitative","scale":{"domain":[0,100],"nice":false,"zero":false},"axis":null},"y":{"field":"pos","type":"quantitative","scale":{"domain":[0,100],"nice":false,"zero":false,"reverse":true},"axis":null}}},
{"data":{"name":"legendLines"},"transform":[{"filter":"isValid(datum.sub)"}],"mark":{"type":"text","align":"left","baseline":"alphabetic","dx":17,"dy":17,"fontSize":13,"fontWeight":"bold","color":"black"},"encoding":{"x":{"datum":45.86,"type":"quantitative","scale":{"domain":[0,100],"nice":false,"zero":false},"axis":null},"y":{"field":"pos","type":"quantitative","scale":{"domain":[0,100],"nice":false,"zero":false,"reverse":true},"axis":null},"text":{"field":"sub"}}},
{"data":{"name":"legendHeads"},"mark":{"type":"text","align":"left","baseline":"alphabetic","fontSize":24,"fontWeight":"bold","color":"black"},"encoding":{"x":{"datum":24.06,"type":"quantitative","scale":{"domain":[0,100],"nice":false,"zero":false},"axis":null},"y":{"field":"pos","type":"quantitative","scale":{"domain":[0,100],"nice":false,"zero":false,"reverse":true},"axis":null},"text":{"field":"text"}}}
]}
]
}
